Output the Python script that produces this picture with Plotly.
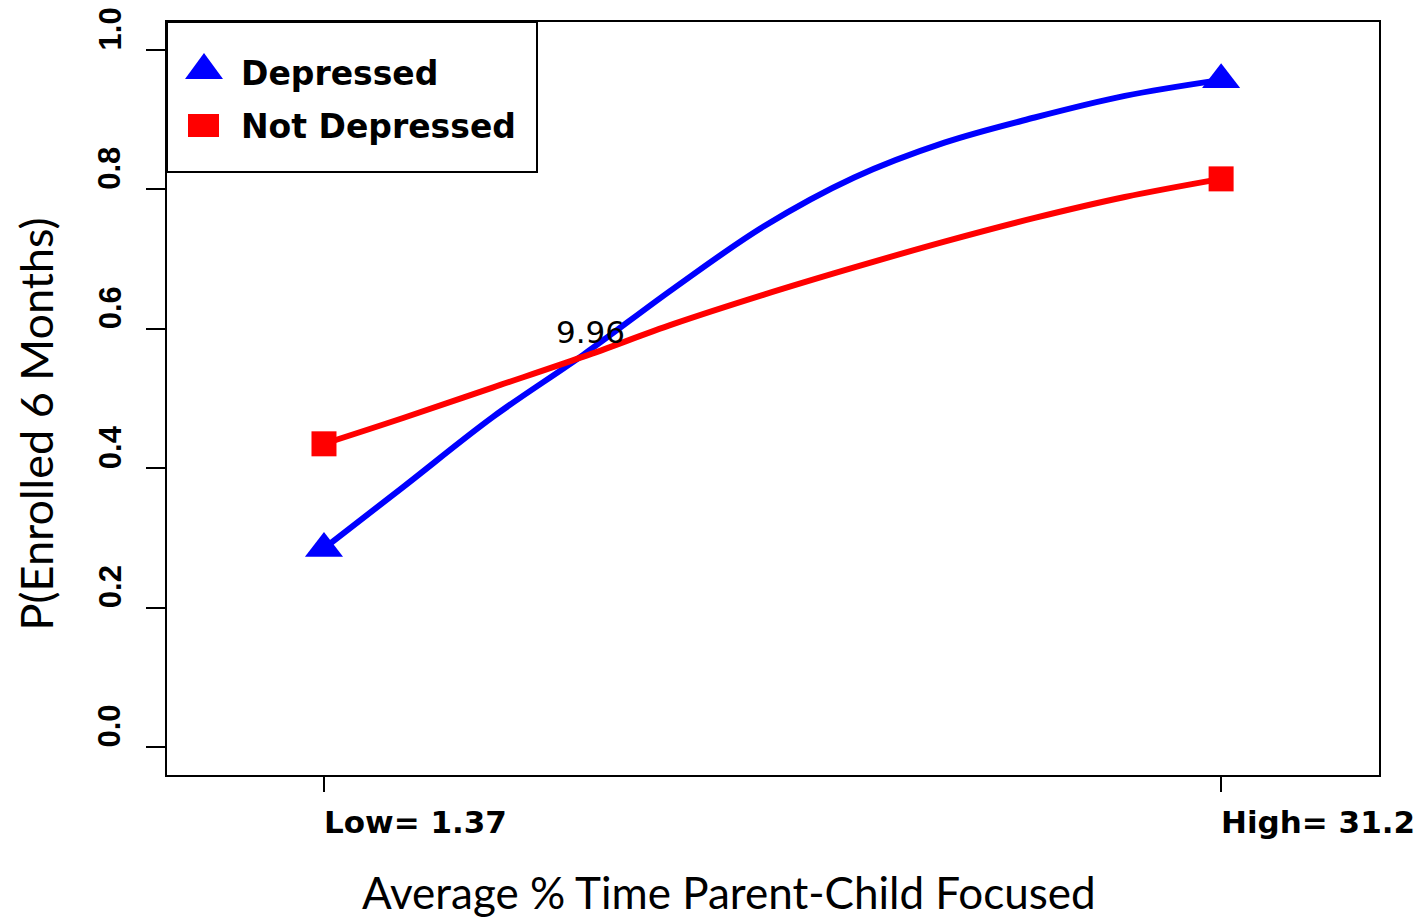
import plotly.graph_objects as go

# ---- data ----
x_vals = [1.37, 4, 7, 10, 13, 16, 19, 22, 25, 28, 31.2]
depressed = [0.285, 0.373, 0.474, 0.563, 0.658, 0.747, 0.817, 0.867, 0.903, 0.934, 0.957]
not_depressed = [0.435, 0.472, 0.516, 0.560, 0.607, 0.649, 0.688, 0.725, 0.759, 0.789, 0.815]
series_names = ["Depressed", "Not Depressed"]
x_tick_vals = [1.37, 31.2]
x_tick_text = ["Low= 1.37", "High= 31.2"]
y_tick_vals = [0.0, 0.2, 0.4, 0.6, 0.8, 1.0]
y_tick_text = ["0.0", "0.2", "0.4", "0.6", "0.8", "1.0"]
crossing_x = 9.96
crossing_y = 0.56

BLUE = "#0000FF"
RED = "#FF0000"

# page body has an 8px margin, so the figure is shrunk by that much
OFF = 8
W, H = 1427 - OFF, 919 - OFF
ML, MR, MT, MB = 167 - OFF, 48, 22 - OFF, 144
PW, PH = W - ML - MR, H - MT - MB
PLOT_L, PLOT_B = 167, 775  # screen pixels of plot corner


def px(xp):  # screen pixel x -> paper
    return (xp - PLOT_L) / PW


def py(yp):  # screen pixel y -> paper
    return (PLOT_B - yp) / PH


fig = go.Figure()

# curves
fig.add_trace(go.Scatter(x=x_vals, y=depressed, mode="lines",
                         line=dict(color=BLUE, width=6, shape="spline", smoothing=1.0),
                         name=series_names[0], showlegend=False))
fig.add_trace(go.Scatter(x=x_vals, y=not_depressed, mode="lines",
                         line=dict(color=RED, width=6, shape="spline", smoothing=1.0),
                         name=series_names[1], showlegend=False))
# end markers
fig.add_trace(go.Scatter(x=[x_vals[0], x_vals[-1]], y=[depressed[0], depressed[-1]], mode="markers",
                         marker=dict(symbol="triangle-up", size=33, color=BLUE), showlegend=False))
fig.add_trace(go.Scatter(x=[x_vals[0], x_vals[-1]], y=[not_depressed[0], not_depressed[-1]], mode="markers",
                         marker=dict(symbol="square", size=25, color=RED), showlegend=False))

annotations = []
# crossing label
annotations.append(dict(x=crossing_x + 0.28, y=crossing_y + 0.035, xref="x", yref="y", text=f"{crossing_x}",
                        showarrow=False, font=dict(family="DejaVu Sans", size=31, color="black"),
                        xanchor="center", yanchor="middle"))
# x tick labels (left aligned at tick)
for v, t in zip(x_tick_vals, x_tick_text):
    annotations.append(dict(x=v, y=0, xref="x", yref="paper", text=f"<b>{t}</b>", showarrow=False,
                            font=dict(family="DejaVu Sans", size=31, color="black"),
                            xanchor="left", yanchor="middle", yshift=-47, xshift=-2))
# y tick labels (rotated, starting at tick)
for v, t in zip(y_tick_vals, y_tick_text):
    annotations.append(dict(x=0, y=v, xref="paper", yref="y", text=f"<b>{t}</b>", showarrow=False,
                            textangle=-90, font=dict(family="Liberation Sans", size=31, color="black"),
                            xanchor="center", yanchor="bottom", xshift=-57, yshift=-3))
# axis titles
annotations.append(dict(x=0.5, y=0, xref="paper", yref="paper", text="Average % Time Parent-Child Focused",
                        showarrow=False, font=dict(family="Lato", size=44, color="black"),
                        xanchor="center", yanchor="middle", xshift=-44, yshift=-117))
annotations.append(dict(x=0, y=0.5, xref="paper", yref="paper", text="P(Enrolled 6 Months)",
                        showarrow=False, textangle=-90, font=dict(family="Lato", size=45, color="black"),
                        xanchor="center", yanchor="middle", xshift=-132, yshift=-26))
# legend texts
annotations.append(dict(x=px(239), y=py(73), xref="paper", yref="paper", text="<b>Depressed</b>",
                        showarrow=False, font=dict(family="DejaVu Sans", size=33, color="black"),
                        xanchor="left", yanchor="middle"))
annotations.append(dict(x=px(239), y=py(127), xref="paper", yref="paper", text="<b>Not Depressed</b>",
                        showarrow=False, font=dict(family="DejaVu Sans", size=33, color="black"),
                        xanchor="left", yanchor="middle"))

shapes = [
    # legend box
    dict(type="rect", xref="paper", yref="paper", x0=px(167), x1=px(537), y0=py(172), y1=py(22),
         line=dict(color="black", width=2), fillcolor="white", layer="above"),
    # legend triangle
    dict(type="path", xref="paper", yref="paper",
         path=f"M {px(185)} {py(79)} L {px(223)} {py(79)} L {px(204)} {py(53)} Z",
         fillcolor=BLUE, line=dict(color=BLUE, width=0), layer="above"),
    # legend square
    dict(type="rect", xref="paper", yref="paper", x0=px(188), x1=px(219), y0=py(137), y1=py(114),
         fillcolor=RED, line=dict(color=RED, width=0), layer="above"),
]

fig.update_layout(
    width=W, height=H,
    margin=dict(l=ML, r=MR, t=MT, b=MB),
    paper_bgcolor="white", plot_bgcolor="white",
    showlegend=False,
    annotations=annotations,
    shapes=shapes,
    xaxis=dict(range=[-3.85, 36.45], tickvals=x_tick_vals, showticklabels=False, ticks="outside",
               ticklen=15, tickwidth=2, tickcolor="black", showline=True, linecolor="black", linewidth=2,
               mirror=True, showgrid=False, zeroline=False),
    yaxis=dict(range=[-0.04, 1.04], tickvals=y_tick_vals, showticklabels=False, ticks="outside",
               ticklen=19, tickwidth=2, tickcolor="black", showline=True, linecolor="black", linewidth=2,
               mirror=True, showgrid=False, zeroline=False),
)

fig.write_html("out.html")
